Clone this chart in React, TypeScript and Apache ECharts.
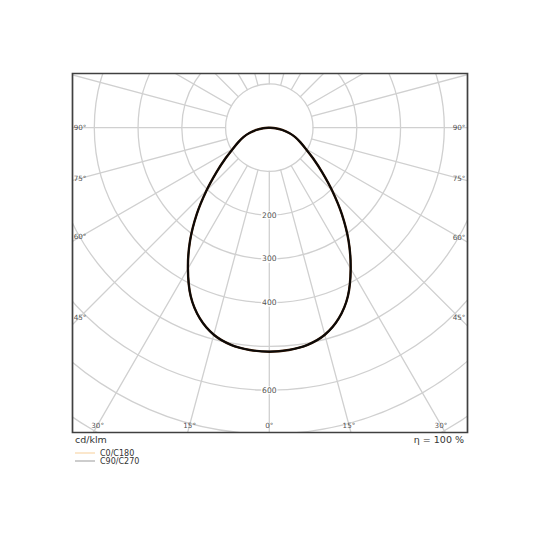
import { useEffect, useRef } from "react";
import * as echarts from "echarts";

// luminous intensity (cd/klm) every 5 degrees from nadir, 0..90
const gammaAngles = [0, 5, 10, 15, 20, 25, 30, 35, 40, 45, 50, 55, 60, 65, 70, 75, 80, 85, 90];
const c0c180 = [512, 510, 504, 490, 464, 425, 372, 316, 258, 203, 157, 122, 96, 78, 63, 47, 30, 14, 0];
const c90c270 = [512, 510, 504, 490, 464, 425, 372, 316, 258, 203, 157, 122, 96, 78, 63, 47, 30, 14, 0];

const angleTicks = [0, 15, 30, 45, 60, 75, 90];
const radiusLabels = [200, 300, 400, 600];
const legendNames = ["C0/C180", "C90/C270"];

const FONT = "DejaVu Sans, sans-serif";
const CX = 269.3;
const CY = 127.7;
const PX = 0.4375; // px per cd/klm
const R_MAX = 900;
const BOX = { x: 72.5, y: 73.5, w: 395, h: 359 };
const INSET = { left: 80, right: 459, bottom: 425 };

// mirror the half curve: right side (360-g, 90..5) then left side (g, 0..90)
const toPolar = (vals: number[]) => {
  const right = gammaAngles
    .map((g, i) => [vals[i], 360 - g])
    .filter((_, i) => gammaAngles[i] > 0)
    .reverse();
  const left = gammaAngles.map((g, i) => [vals[i], g]);
  return [...right, ...left];
};

// where each angle ray meets the inset label box, in cd/klm
const labelRadius = (g: number, side: "left" | "right") => {
  const rad = (g * Math.PI) / 180;
  const toBottom = Math.cos(rad) > 1e-6 ? (INSET.bottom - CY) / Math.cos(rad) : Infinity;
  const sideDist = side === "left" ? CX - INSET.left : INSET.right - CX;
  const toSide = Math.sin(rad) > 1e-6 ? sideDist / Math.sin(rad) : Infinity;
  return Math.min(toBottom, toSide) / PX;
};

const angleLabelData = [
  ...angleTicks.map((g) => [labelRadius(g, "left"), g, `${g}°`]),
  ...angleTicks.filter((g) => g > 0).map((g) => [labelRadius(g, "right"), 360 - g, `${g}°`]),
];

// one smooth (Catmull-Rom) path through all points, drawn on the first item
const curveRenderer =
  (pts: number[][], stroke: string, lineWidth: number) => (params: any, api: any) => {
    if (params.dataIndex !== 0) {
      return null;
    }
    const p = pts.map((d) => api.coord(d) as number[]);
    const f = (v: number) => v.toFixed(2);
    let d = `M${f(p[0][0])},${f(p[0][1])}`;
    for (let i = 0; i < p.length - 1; i++) {
      const p0 = p[Math.max(i - 1, 0)];
      const p1 = p[i];
      const p2 = p[i + 1];
      const p3 = p[Math.min(i + 2, p.length - 1)];
      const c1x = p1[0] + (p2[0] - p0[0]) / 6;
      const c1y = p1[1] + (p2[1] - p0[1]) / 6;
      const c2x = p2[0] - (p3[0] - p1[0]) / 6;
      const c2y = p2[1] - (p3[1] - p1[1]) / 6;
      d += ` C${f(c1x)},${f(c1y)} ${f(c2x)},${f(c2y)} ${f(p2[0])},${f(p2[1])}`;
    }
    return {
      type: "path",
      shape: { pathData: d },
      style: { fill: "none", stroke, lineWidth, lineJoin: "round" },
    };
  };

const App = () => {
  const chartRef = useRef<HTMLDivElement | null>(null);

  useEffect(() => {
    if (!chartRef.current) {
      return;
    }
    const instance = echarts.init(chartRef.current, undefined, { renderer: "svg" });

    const gridLine = { color: "#d0d0d0", width: 1.3 };
    const white = { fill: "#fff" };
    const data0 = toPolar(c0c180);
    const data90 = toPolar(c90c270);

    const option: echarts.EChartsOption = {
      animation: false,
      textStyle: { fontFamily: FONT },
      polar: {
        center: [CX, CY],
        radius: [0, R_MAX * PX],
      },
      angleAxis: {
        type: "value",
        min: 0,
        max: 360,
        interval: 15,
        startAngle: 270,
        clockwise: true,
        z: 0,
        axisLine: { show: false },
        axisTick: { show: false },
        axisLabel: { show: false },
        splitLine: { show: true, lineStyle: gridLine },
      },
      radiusAxis: {
        type: "value",
        min: 0,
        max: R_MAX,
        interval: 100,
        z: 2,
        axisLine: { show: false },
        axisTick: { show: false },
        axisLabel: { show: false },
        splitLine: { show: true, lineStyle: gridLine },
      },
      legend: {
        orient: "vertical",
        left: 75,
        top: 449,
        padding: 0,
        icon: "rect",
        itemWidth: 20,
        itemHeight: 1,
        itemGap: 0,
        z: 8,
        textStyle: { fontSize: 8, lineHeight: 8, color: "#333", fontFamily: FONT },
        data: [
          { name: legendNames[0], itemStyle: { color: "#f7cf98" } },
          { name: legendNames[1], itemStyle: { color: "#9a9a9a" } },
        ],
      },
      graphic: [
        // hides the spokes inside the 100 cd/klm ring
        { type: "circle", z: 1, silent: true, shape: { cx: CX, cy: CY, r: 100 * PX - 0.6 }, style: white },
        // mask everything outside the frame
        { type: "rect", z: 3, silent: true, shape: { x: 0, y: 0, width: 540, height: BOX.y }, style: white },
        { type: "rect", z: 3, silent: true, shape: { x: 0, y: BOX.y + BOX.h, width: 540, height: 540 }, style: white },
        { type: "rect", z: 3, silent: true, shape: { x: 0, y: 0, width: BOX.x, height: 540 }, style: white },
        { type: "rect", z: 3, silent: true, shape: { x: BOX.x + BOX.w, y: 0, width: 540, height: 540 }, style: white },
        {
          type: "rect",
          z: 7,
          silent: true,
          shape: { x: BOX.x, y: BOX.y, width: BOX.w, height: BOX.h },
          style: { fill: "none", stroke: "#404040", lineWidth: 1.7 },
        },
        {
          type: "text",
          z: 7,
          left: 75,
          top: 434,
          style: { text: "cd/klm", fill: "#333", font: `9.5px ${FONT}` },
        },
        {
          type: "text",
          z: 7,
          right: 76,
          top: 434,
          style: { text: "η = 100 %", fill: "#333", font: `9.5px ${FONT}` },
        },
      ],
      series: [
        {
          name: legendNames[0],
          type: "custom",
          coordinateSystem: "polar",
          data: data0,
          z: 5,
          silent: true,
          itemStyle: { color: "#f7cf98" },
          renderItem: curveRenderer(data0, "#3a1800", 2.4) as any,
        },
        {
          name: legendNames[1],
          type: "custom",
          coordinateSystem: "polar",
          data: data90,
          z: 5,
          silent: true,
          itemStyle: { color: "#9a9a9a" },
          renderItem: curveRenderer(data90, "#0a0a0a", 1.7) as any,
        },
        {
          type: "scatter",
          coordinateSystem: "polar",
          data: radiusLabels.map((r) => [r, 0]),
          symbolSize: 0,
          clip: false,
          silent: true,
          z: 6,
          label: {
            show: true,
            position: "inside",
            formatter: (p: any) => String(p.value[0]),
            fontSize: 7.6,
            color: "#222",
            fontFamily: FONT,
            backgroundColor: "#fff",
            padding: [0, 1],
          },
        },
        {
          type: "scatter",
          coordinateSystem: "polar",
          data: angleLabelData,
          symbolSize: 0,
          clip: false,
          silent: true,
          z: 6,
          label: {
            show: true,
            position: "inside",
            formatter: (p: any) => String(p.value[2]),
            fontSize: 7.2,
            color: "#222",
            fontFamily: FONT,
          },
        },
      ],
    };

    instance.setOption(option);

    return () => {
      instance.dispose();
    };
  }, []);

  return (
    <div
      ref={chartRef}
      style={{ position: "fixed", left: 0, top: 0, width: 540, height: 540, background: "#fff" }}
    />
  );
};

export default App;
